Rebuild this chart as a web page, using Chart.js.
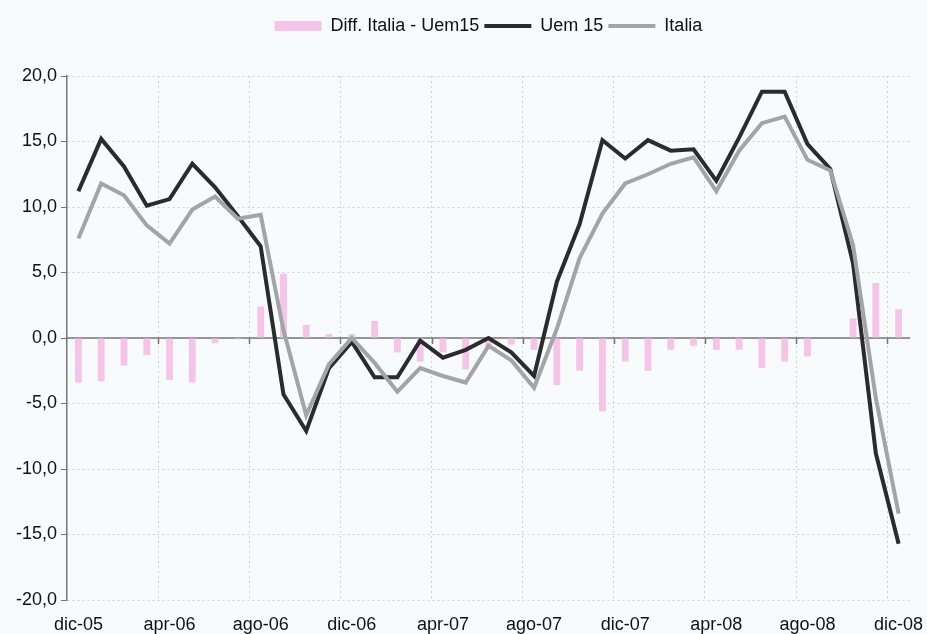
<!DOCTYPE html>
<html>
<head>
<meta charset="utf-8">
<script src="https://cdn.jsdelivr.net/npm/chart.js@4/dist/chart.umd.min.js"></script>
<style>
  html, body { margin: 0; padding: 0; background: #f7fbfc; }
  #wrap { width: 927px; height: 634px; }
</style>
</head>
<body>
<div id="wrap"><canvas id="chart"></canvas></div>
<script>
// mesi dic-05 .. dic-08
const months = ['gen', 'feb', 'mar', 'apr', 'mag', 'giu', 'lug', 'ago', 'set', 'ott', 'nov', 'dic']
const labels = ['dic-05']
for (let y = 6; y <= 8; y++) {
    months.forEach(m => labels.push(m + '-0' + y))
}

const uem15 = [11.2, 15.2, 13.1, 10.1, 10.6, 13.3, 11.5, 9.3, 7.0, -4.3, -7.1, -2.3, -0.3,
    -3.0, -3.0, -0.2, -1.5, -0.9, 0.0, -1.1, -2.9, 4.3, 8.7, 15.1, 13.7,
    15.1, 14.3, 14.4, 12.0, 15.3, 18.8, 18.8, 14.8, 12.9, 5.7, -8.8, -15.7]
const italia = [7.6, 11.8, 10.9, 8.6, 7.2, 9.8, 10.8, 9.1, 9.4, 0.6, -5.9, -2.0, 0.0,
    -1.9, -4.1, -2.3, -2.9, -3.4, -0.6, -1.7, -3.8, 0.7, 6.1, 9.5, 11.8,
    12.5, 13.3, 13.8, 11.2, 14.3, 16.4, 16.9, 13.6, 12.8, 7.1, -4.6, -13.4]
const diff = [-3.4, -3.3, -2.1, -1.3, -3.2, -3.4, -0.4, -0.1, 2.4, 4.9, 1.0, 0.3, 0.3,
    1.3, -1.1, -1.8, -1.1, -2.4, -0.6, -0.5, -0.9, -3.6, -2.5, -5.6, -1.8,
    -2.5, -0.9, -0.6, -0.9, -0.9, -2.3, -1.8, -1.4, 0.0, 1.5, 4.2, 2.2]

const yTicks = [-20, -15, -10, -5, 0, 5, 10, 15, 20]

const fontFamily = '"Liberation Sans", Arial, sans-serif'

// asse dello zero con le tacche ogni 4 mesi
const zeroAxis = {
    id: 'zeroAxis',
    beforeDatasetsDraw (chart) {
        const {ctx, chartArea, scales: {x, y}} = chart
        const y0 = y.getPixelForValue(0)
        const half = (x.getPixelForValue(1) - x.getPixelForValue(0)) / 2
        ctx.save()
        ctx.strokeStyle = '#777'
        ctx.lineWidth = 1.5
        ctx.beginPath()
        ctx.moveTo(chartArea.left, y0)
        ctx.lineTo(chartArea.right, y0)
        for (let i = 4; i < labels.length; i += 4) {
            const px = Math.round(x.getPixelForValue(i) - half) + 0.5
            ctx.moveTo(px, y0)
            ctx.lineTo(px, y0 + 6)
        }
        ctx.stroke()
        ctx.restore()
    }
}

const legendSpace = {
    id: 'legendSpace',
    beforeInit (chart) {
        const fit = chart.legend.fit
        chart.legend.fit = function () {
            fit.bind(chart.legend)()
            this.height += 31
        }
    }
}

new Chart(document.getElementById('chart'), {
    type: 'bar',
    data: {
        labels: labels,
        datasets: [
            {
                type: 'bar',
                label: 'Diff. Italia - Uem15',
                data: diff,
                backgroundColor: '#f6c4e9',
                borderWidth: 0,
                barPercentage: 0.3,
                categoryPercentage: 1,
                order: 3
            },
            {
                type: 'line',
                label: 'Uem 15',
                data: uem15,
                borderColor: '#2a2b2d',
                backgroundColor: '#2a2b2d',
                borderWidth: 4,
                pointRadius: 0,
                tension: 0,
                order: 2
            },
            {
                type: 'line',
                label: 'Italia',
                data: italia,
                borderColor: '#a3a4a6',
                backgroundColor: '#a3a4a6',
                borderWidth: 4,
                pointRadius: 0,
                tension: 0,
                order: 1
            }
        ]
    },
    options: {
        responsive: true,
        maintainAspectRatio: false,
        animation: false,
        layout: {padding: {top: 12, right: 17, left: 0, bottom: 0}},
        plugins: {
            tooltip: {enabled: false},
            legend: {
                position: 'top',
                fullSize: false,
                labels: {
                    sort: (a, b) => a.datasetIndex - b.datasetIndex,
                    usePointStyle: true,
                    pointStyleWidth: 47,
                    boxHeight: 10,
                    padding: 5,
                    color: '#111',
                    font: {family: fontFamily, size: 18},
                    generateLabels (chart) {
                        const items = Chart.defaults.plugins.legend.labels.generateLabels(chart)
                        items.forEach(item => {
                            item.pointStyle = item.datasetIndex === 0 ? 'rect' : 'line'
                            if (item.datasetIndex === 0) item.lineWidth = 0
                        })
                        return items
                    }
                }
            }
        },
        scales: {
            x: {
                afterFit (scale) {
                    scale.height = 34
                    scale.paddingLeft = 0
                    scale.paddingRight = 0
                },
                grid: {
                    offset: true,
                    drawTicks: false,
                    color: c => (c.index % 4 === 0 && c.index > 0 && c.index < labels.length) ? '#cfd2d4' : 'rgba(0,0,0,0)'
                },
                border: {display: false, dash: [2, 3]},
                ticks: {
                    autoSkip: false,
                    maxRotation: 0,
                    padding: 14,
                    color: '#111',
                    font: {family: fontFamily, size: 18},
                    callback: (v, i) => (i % 4 === 0 ? labels[i] : '')
                }
            },
            y: {
                min: -20,
                max: 20,
                afterFit (scale) { scale.width = 67 },
                afterBuildTicks (scale) { scale.ticks = yTicks.map(v => ({value: v})) },
                grid: {
                    color: '#cfd2d4',
                    tickColor: '#777',
                    tickLength: 6
                },
                border: {color: '#777', width: 1.5, dash: [2, 3]},
                ticks: {
                    padding: 4,
                    color: '#111',
                    font: {family: fontFamily, size: 18},
                    callback: v => v.toFixed(1).replace('.', ',')
                }
            }
        }
    },
    plugins: [zeroAxis, legendSpace]
})
</script>
</body>
</html>
